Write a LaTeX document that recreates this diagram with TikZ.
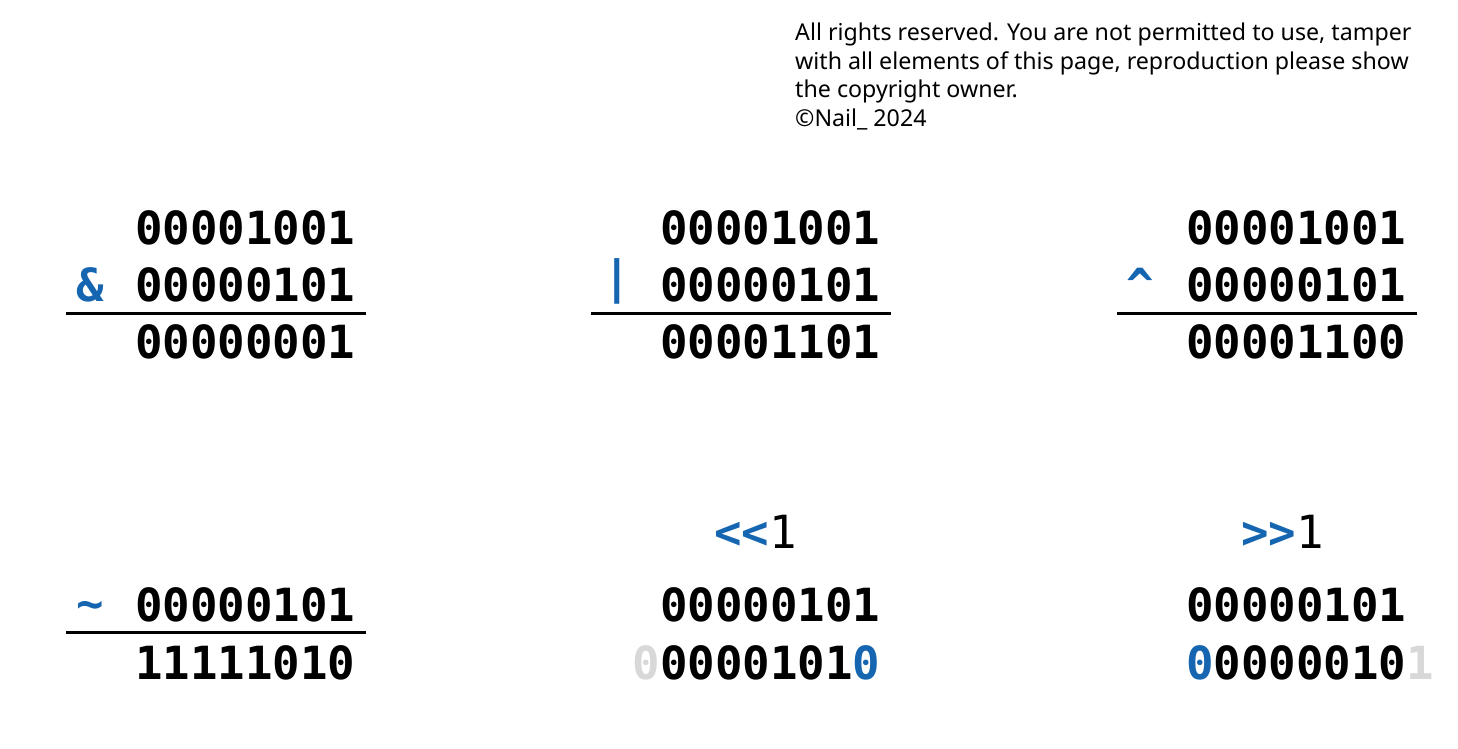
\documentclass[tikz,border=0pt]{standalone}
\usepackage{fontspec}
\setmainfont{Noto Sans}
\newfontfamily\monof{DejaVu Sans Mono}
\definecolor{opblue}{RGB}{21,101,176}
\definecolor{shiftgray}{RGB}{216,216,216}
\tikzset{
  bits/.style={anchor=base west, inner sep=0pt, outer sep=0pt, font=\monof\bfseries\fontsize{45.7}{50}\selectfont},
  op/.style={bits, text=opblue},
  rule/.style={line width=3pt},
  note/.style={anchor=base west, inner sep=0pt, font=\fontsize{23.2}{28}\selectfont}
}
\begin{document}
\begin{tikzpicture}[x=1pt,y=-1pt]
\useasboundingbox (0,0) rectangle (1458,749);
% copyright
\node[note] (c1) at (795,41) {All rights reserved. You are not permitted to use, tamper};
\node[note] (c2) at (795,70) {with all elements of this page, reproduction please show};
\node[note] (c3) at (795,98) {the copyright owner.};
\node[note] (c4) at (795,127) {©Nail\_ 2024};
% AND
\node[bits] (a1) at (135,244) {00001001};
\node[op] (aop) at (76,301) {\&};
\node[bits] (a2) at (135,301) {00000101};
\coordinate (al) at (66,313); \coordinate (ar) at (366,313);
\draw[rule] (al) -- (ar);
\node[bits] (a3) at (135,358) {00000001};
% OR
\node[bits] (o1) at (660,244) {00001001};
\node[op] (oop) at (603,301) {\raisebox{8pt}{|}};
\node[bits] (o2) at (660,301) {00000101};
\coordinate (ol) at (591,313); \coordinate (or) at (891,313);
\draw[rule] (ol) -- (or);
\node[bits] (o3) at (660,358) {00001101};
% XOR
\node[bits] (x1) at (1186,244) {00001001};
\node[op] (xop) at (1126,301) {\^{}};
\node[bits] (x2) at (1186,301) {00000101};
\coordinate (xl) at (1117,313); \coordinate (xr) at (1417,313);
\draw[rule] (xl) -- (xr);
\node[bits] (x3) at (1186,358) {00001100};
% NOT
\node[op] (nop) at (76,619) {\char`\~};
\node[bits] (n1) at (135,621) {00000101};
\coordinate (nl) at (66,632); \coordinate (nr) at (366,632);
\draw[rule] (nl) -- (nr);
\node[bits] (n2) at (135,679) {11111010};
% left shift
\node[bits] (ls) at (714,548) {\textcolor{opblue}{<<}{\mdseries 1}};
\node[bits] (l1) at (660,621) {00000101};
\node[bits] (l2) at (632.5,679) {\textcolor{shiftgray}{0}0000101\textcolor{opblue}{0}};
% right shift
\node[bits] (rs) at (1241,548) {\textcolor{opblue}{>>}{\mdseries 1}};
\node[bits] (r1) at (1186,621) {00000101};
\node[bits] (r2) at (1186,679) {\textcolor{opblue}{0}0000010\textcolor{shiftgray}{1}};
\end{tikzpicture}
\end{document}
